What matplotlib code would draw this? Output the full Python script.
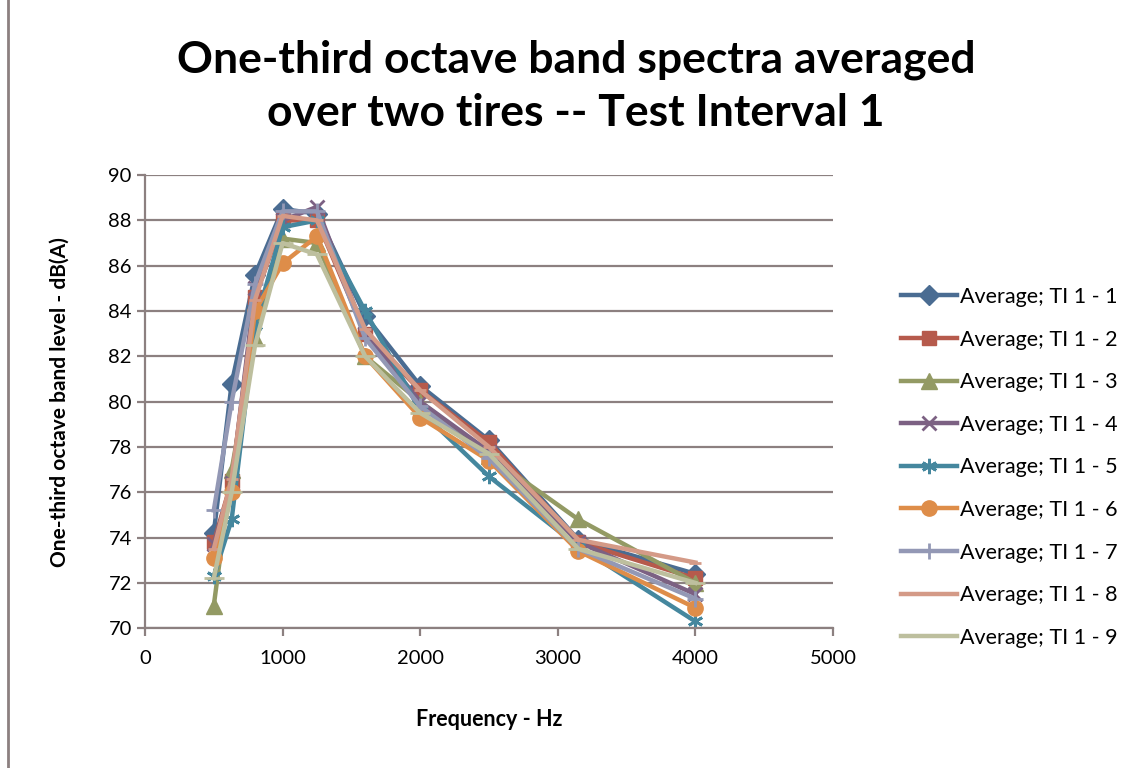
import matplotlib
matplotlib.use("Agg")
import matplotlib.pyplot as plt
from matplotlib.patches import Rectangle

plt.rcParams['font.family'] = ['Lato', 'DejaVu Sans']

freq = [500, 630, 800, 1000, 1250, 1600, 2000, 2500, 3150, 4000]

ti1_1 = [74.2, 80.8, 85.6, 88.5, 88.3, 83.8, 80.7, 78.3, 73.9, 72.4]
ti1_2 = [73.8, 76.5, 84.6, 88.0, 88.0, 83.0, 80.5, 78.2, 73.8, 72.2]
ti1_3 = [71.0, 77.0, 82.8, 87.2, 87.0, 82.0, 80.0, 77.6, 74.8, 72.0]
ti1_4 = [73.7, 76.4, 85.0, 88.0, 88.6, 83.0, 80.0, 77.8, 73.8, 71.5]
ti1_5 = [72.3, 74.8, 83.4, 87.7, 88.0, 84.0, 79.6, 76.7, 73.6, 70.3]
ti1_6 = [73.1, 76.0, 84.0, 86.1, 87.3, 82.0, 79.3, 77.4, 73.4, 70.9]
ti1_7 = [75.2, 80.0, 85.2, 88.4, 88.4, 82.8, 79.8, 77.5, 73.5, 71.3]
ti1_8 = [73.5, 76.6, 84.5, 88.2, 88.0, 83.2, 80.5, 78.0, 73.9, 72.9]
ti1_9 = [72.2, 76.0, 82.5, 87.0, 86.5, 82.0, 79.5, 77.7, 73.5, 72.0]

series = [ti1_1, ti1_2, ti1_3, ti1_4, ti1_5, ti1_6, ti1_7, ti1_8, ti1_9]
labels = ["Average; TI 1 - %d" % i for i in range(1, 10)]
colors = ['#4A6C92', '#B65A4C', '#939A64', '#7C6183', '#45879E',
          '#DE8D49', '#9398B5', '#D49A87', '#BDBF9E']
markers = ['D', 's', '^', 'x', (6, 2, 0), 'o', '+', '_', '_']
msizes = [10, 10, 11, 10, 11, 11, 11, 8, 14]

fig = plt.figure(figsize=(11.38, 7.68), dpi=100)
ax = fig.add_axes([0.1274, 0.182, 0.6046, 0.590])

for y, lab, c, m, ms in zip(series, labels, colors, markers, msizes):
    ax.plot(freq, y, color=c, linewidth=3.2, marker=m, markersize=ms,
            markeredgewidth=2 if m in ('x', '+', '_', (6, 2, 0)) else 1,
            markeredgecolor=c, markerfacecolor=c, label=lab)

ax.set_xlim(0, 5000)
ax.set_ylim(70, 90)
ax.set_xticks(range(0, 5001, 1000))
ax.set_yticks(range(70, 91, 2))
ax.grid(axis='y', color='#8C8080', linewidth=1.6)
ax.set_axisbelow(True)
for s in ['top', 'right']:
    ax.spines[s].set_visible(False)
for s in ['left', 'bottom']:
    ax.spines[s].set_color('#8C8080')
    ax.spines[s].set_linewidth(1.6)
ax.tick_params(colors='#8C8080', labelcolor='black', labelsize=14.5, width=1.6, length=6)
ax.tick_params(axis='x', pad=10)

ax.set_xlabel("Frequency - Hz", fontsize=15.5, fontweight='bold', labelpad=30)
ax.set_ylabel("One-third octave band level - dB(A)", fontsize=15, fontweight='bold', labelpad=28)

fig.text(0.506, 0.888, "One-third octave band spectra averaged\nover two tires -- Test Interval 1",
         ha='center', va='center', fontsize=32, fontweight='bold', linespacing=1.4)

ax.legend(loc='center left', bbox_to_anchor=(1.07, 0.355), frameon=False,
          fontsize=15.5, handlelength=2.6, labelspacing=1.05, handletextpad=0.15)

fig.patches.append(Rectangle((0.007, -0.01), 1.0, 1.02, transform=fig.transFigure,
                             fill=False, edgecolor='#8C8080', linewidth=2))

fig.savefig("out.png", dpi=100)
